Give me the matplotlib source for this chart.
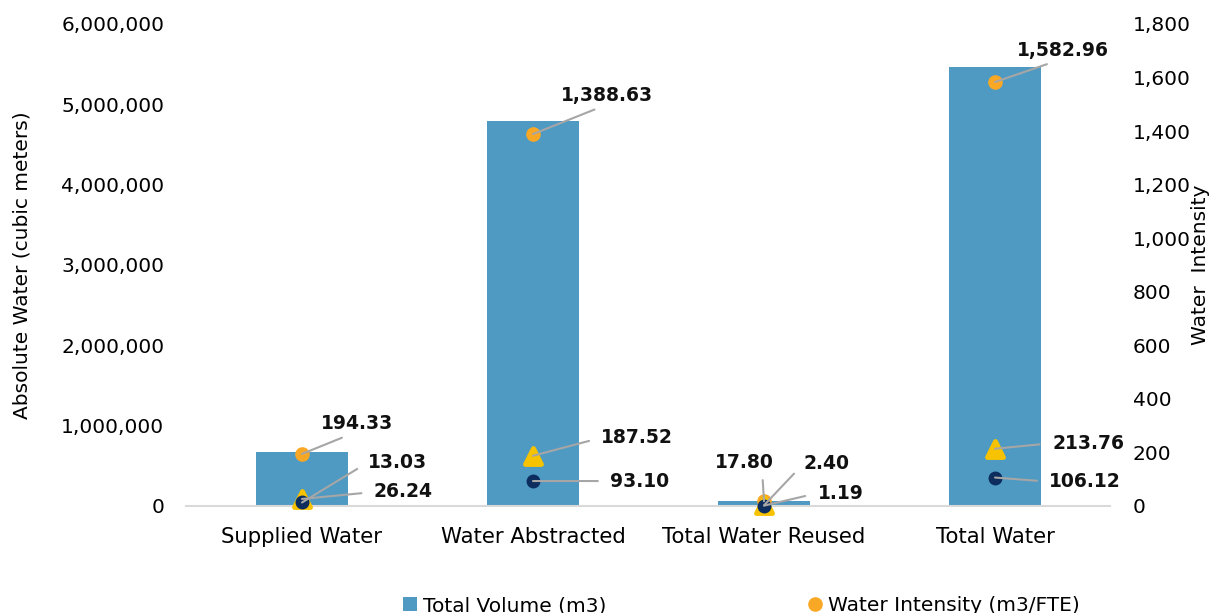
import numpy as np
import matplotlib.pyplot as plt
from matplotlib.markers import MarkerStyle
from matplotlib.ticker import FuncFormatter

plt.rcParams['font.family'] = ['DejaVu Sans']

categories = ['Supplied Water', 'Water Abstracted', 'Total Water Reused', 'Total Water']
total_volume = [670000, 4790000, 61000, 5460000]
intensity_fte = [194.33, 1388.63, 17.80, 1582.96]
intensity_tri = [26.24, 187.52, 2.40, 213.76]
intensity_dot = [13.03, 93.10, 1.19, 106.12]

bar_color = '#4e9ac3'
orange = '#f9a825'
yellow = '#f7c200'
navy = '#0c2d5e'
grey_line = '#a6a6a6'

fig = plt.figure(figsize=(12.11, 6.13), dpi=100)
ax1 = fig.add_axes([0.154, 0.1746, 0.763, 0.7864])
x = np.arange(len(categories))

ax1.bar(x, total_volume, 0.4, color=bar_color, label='Total Volume (m3)', zorder=2)
ax1.set_xlim(-0.5, 3.5)
ax1.set_ylim(0, 6000000)
ax1.set_yticks(np.arange(0, 6000001, 1000000))
ax1.yaxis.set_major_formatter(FuncFormatter(lambda v, p: f'{v:,.0f}'))
ax1.set_xticks(x)
ax1.set_xticklabels(categories, fontsize=15.3)
ax1.tick_params(axis='y', labelsize=14.5, length=0, pad=16)
ax1.tick_params(axis='x', length=0, pad=15)
ax1.set_ylabel('Absolute Water (cubic meters)', fontsize=14.5, labelpad=21)
for s in ['top', 'right', 'left']:
    ax1.spines[s].set_visible(False)
ax1.spines['bottom'].set_color('#d9d9d9')
ax1.spines['bottom'].set_linewidth(1.5)

ax2 = ax1.twinx()
ax2.set_ylim(0, 1800)
ax2.set_yticks(np.arange(0, 1801, 200))
ax2.yaxis.set_major_formatter(FuncFormatter(lambda v, p: f'{v:,.0f}'))
ax2.tick_params(axis='y', labelsize=14.5, length=0, pad=16)
ax2.set_ylabel('Water  Intensity', fontsize=14.5, labelpad=0)
for s in ['top', 'right', 'left', 'bottom']:
    ax2.spines[s].set_visible(False)

# rounded triangle marker
tri = MarkerStyle('^', joinstyle='round')

ax2.plot(x, intensity_fte, 'o', color=orange, markersize=9.5, zorder=3,
         label='Water Intensity (m3/FTE)', clip_on=False)
ax2.plot(x, intensity_tri, linestyle='none', marker=tri, color=yellow, markersize=11,
         markeredgewidth=3.5, markeredgecolor=yellow, zorder=4, clip_on=False)
ax2.plot(x, intensity_dot, 'o', color=navy, markersize=9, zorder=5, clip_on=False)

# label offsets (points) and where the leader line meets the text box
fte_off = [(40, 22), (53, 28), (-14, 28), (49, 23)]
fte_rel = [(0.45, 0), (0.5, 0), (0.8, 0), (0.47, 0)]
tri_off = [(73, 5), (75, 13), (45, 30), (67, 4)]
dot_off = [(69, 29), (77, 0), (55, 9), (65, -3)]
side_rel = [(0, 0.5)] * 4

def label(series, offsets, rels, shrink):
    for i, (v, off, rel) in enumerate(zip(series, offsets, rels)):
        ax2.annotate(f'{v:,.2f}', xy=(x[i], v), xytext=off, textcoords='offset points',
                     ha='center', va='center', fontsize=13.5, fontweight='bold',
                     color='#111111',
                     arrowprops=dict(arrowstyle='-', color=grey_line, lw=1.5,
                                     shrinkA=shrink, shrinkB=0, relpos=rel),
                     zorder=6, annotation_clip=False)

label(intensity_fte, fte_off, fte_rel, 4)
label(intensity_tri, tri_off, side_rel, 7)
label(intensity_dot, dot_off, side_rel, 7)

h1, l1 = ax1.get_legend_handles_labels()
h2, l2 = ax2.get_legend_handles_labels()
fig.legend(h1 + h2, l1 + l2, loc='center', bbox_to_anchor=(0.612, 0.012), ncol=2,
           frameon=False, fontsize=14.5, columnspacing=10, handlelength=0.7,
           handletextpad=0.3)

fig.savefig('out.png', dpi=100)
